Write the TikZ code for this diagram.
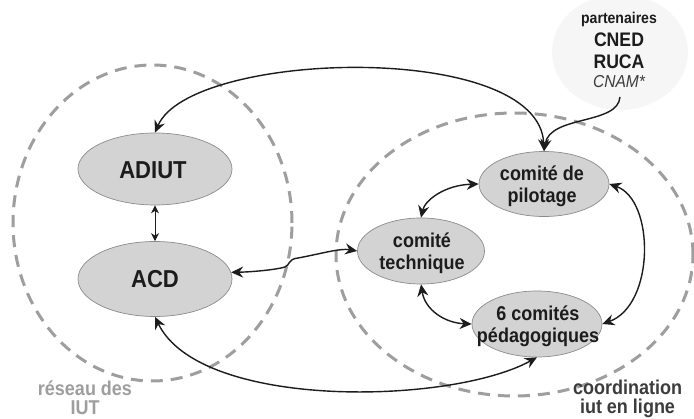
\documentclass[tikz,border=0pt]{standalone}
\usepackage{fontspec}
\setmainfont{Liberation Sans}
\newfontfamily\condfont{Liberation Sans}[FakeStretch=0.9]
\usetikzlibrary{arrows.meta,shapes.geometric}
\definecolor{ringgray}{HTML}{9E9E9E}
\definecolor{boxfill}{HTML}{D3D3D3}
\definecolor{boxline}{HTML}{8C8C8C}
\definecolor{inkdark}{HTML}{1C1C1C}
\definecolor{partfill}{HTML}{F6F6F6}
\definecolor{softink}{HTML}{3C3C3C}
\begin{document}
\begin{tikzpicture}[x=1pt,y=-1pt,
  ring/.style={ellipse,draw=ringgray,line width=3pt,dash pattern=on 12pt off 8pt,inner sep=0pt},
  org/.style={ellipse,draw=boxline,line width=0.7pt,fill=boxfill,inner sep=0pt},
  lbl/.style={font=\condfont\bfseries\fontsize{20}{22}\selectfont,align=center,text=inkdark,inner sep=0pt},
  big/.style={font=\condfont\bfseries\fontsize{24.5}{28}\selectfont,text=inkdark,inner sep=0pt},
  link/.style={draw=inkdark,line width=1.4pt,{Stealth[length=12pt,width=11pt,inset=4pt]}-{Stealth[length=12pt,width=11pt,inset=4pt]}},
  onelink/.style={draw=inkdark,line width=1.4pt,-{Stealth[length=12pt,width=11pt,inset=4pt]}},
  thinlink/.style={draw=inkdark,line width=1pt,{Stealth[length=8pt,width=8pt,inset=2.5pt]}-{Stealth[length=8pt,width=8pt,inset=2.5pt]}},
  ringlbl/.style={font=\condfont\bfseries\fontsize{20}{19.5}\selectfont,align=center,inner sep=0pt},
]
\useasboundingbox[fill=white] (0,0) rectangle (694,419);

% partners halo
\node[ellipse,fill=partfill,minimum width=136pt,minimum height=116pt,inner sep=0pt] (halo) at (620,52) {};
\node[font=\condfont\bfseries\fontsize{15.6}{16}\selectfont,text=inkdark,inner sep=0pt] (p1) at (619,19) {partenaires};
\node[font=\condfont\bfseries\fontsize{19.6}{20}\selectfont,text=inkdark,inner sep=0pt] (p2) at (619,40) {CNED};
\node[font=\condfont\bfseries\fontsize{19.6}{20}\selectfont,text=inkdark,inner sep=0pt] (p3) at (619,62) {RUCA};
\node[font=\condfont\itshape\fontsize{17.3}{18}\selectfont,text=softink,inner sep=0pt] (p4) at (619,82) {CNAM*};
\coordinate (pstart) at (620,97);

% dashed rings
\node[ring,minimum width=279pt,minimum height=316pt] (reseau) at (152.5,223) {};
\node[ring,minimum width=357pt,minimum height=283pt] (coord) at (514.5,254.5) {};

% organisations
\node[org,minimum width=154pt,minimum height=72pt] (adiut) at (155,169) {};
\node[org,minimum width=154pt,minimum height=75pt] (acd) at (155,279) {};
\node[org,minimum width=130pt,minimum height=65pt] (pil) at (544,184) {};
\node[org,minimum width=127pt,minimum height=66pt] (tech) at (421,251) {};
\node[org,minimum width=130pt,minimum height=66pt] (ped) at (537,324) {};

% connectors
\draw[link] (adiut.north) .. controls (190,50) and (540,40) .. (pil.north);
\draw[onelink] (pstart) .. controls (618,125) and (550,115) .. (pil.north);
\draw[thinlink] (adiut.south) -- (acd.north);
\draw[link] (acd.5) .. controls (250,272) and (275,270) .. (285,267)
   .. controls (290,265) and (288,259) .. (298,258)
   .. controls (320,254) and (340,248) .. (tech.west);
\draw[link] (tech.north) .. controls (425,200) and (445,185) .. (pil.west);
\draw[link] (tech.south) .. controls (425,310) and (445,323) .. (ped.west);
\draw[link] (pil.east) .. controls (655,200) and (655,305) .. (ped.east);
\draw[link] (acd.south) .. controls (200,410) and (450,405) .. (ped.south);

% texts
\node[big] (tadiut) at (153,170) {ADIUT};
\node[big] (tacd) at (155,279.5) {ACD};
\node[lbl] (tpil) at (542,186) {comité de\\pilotage};
\node[lbl] (ttech) at (422,253) {comité\\technique};
\node[lbl] (tped) at (538,326) {6 comités\\pédagogiques};

\node[ringlbl,text=ringgray] (lreseau) at (85,398) {réseau des\\IUT};
\node[ringlbl,text=softink] (lcoord) at (627.5,399) {coordination\\iut en ligne};
\end{tikzpicture}
\end{document}
